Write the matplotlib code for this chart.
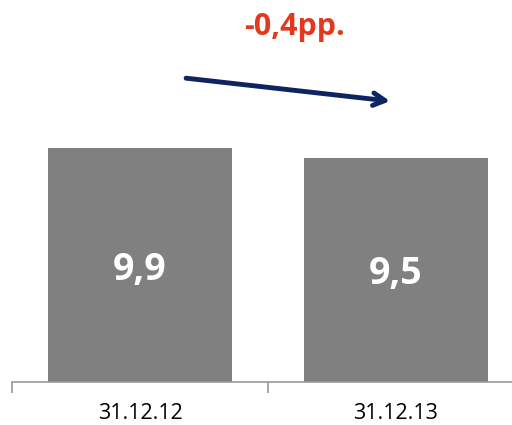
import matplotlib
matplotlib.use("Agg")
import matplotlib.pyplot as plt

categories = ["31.12.12", "31.12.13"]
values = [9.9, 9.5]
value_labels = ["9,9", "9,5"]
change_label = "-0,4pp."

fig = plt.figure(figsize=(5.12, 4.25), dpi=100)
ax = fig.add_axes([12/512, 43/425, 512/512, 378/425])
x = list(range(len(categories)))
ax.bar(x, values, width=0.72, color="#808080", zorder=2)
ax.set_xlim(-0.5, 1.5)
ax.set_ylim(0, 16)

for xi, v, lab in zip(x, values, value_labels):
    ax.text(xi, v / 2, lab, ha="center", va="center_baseline", color="white",
            fontsize=27, fontweight="bold", family="Open Sans")

ax.annotate("", xy=(0.977, 11.89), xytext=(0.18, 12.86),
            arrowprops=dict(arrowstyle="->,head_length=0.85,head_width=0.45",
                            color="#0d2461", lw=3.5, shrinkA=0, shrinkB=0))
ax.text(0.605, 14.68, change_label, ha="center", va="baseline", color="#e2391e",
        fontsize=22, fontweight="bold", family="Open Sans")

for s in ["top", "right", "left"]:
    ax.spines[s].set_visible(False)
ax.spines["bottom"].set_color("#999999")
ax.spines["bottom"].set_linewidth(1.2)
ax.set_yticks([])
ax.set_xticks([-0.5, 0.5, 1.5], minor=False)
ax.set_xticklabels([])
ax.tick_params(axis="x", length=8, color="#999999", width=1.2)
ax.set_xticks(x, minor=True)
ax.set_xticklabels(categories, minor=True, fontsize=15.5, family="Open Sans")
ax.tick_params(axis="x", which="minor", length=0, pad=15)

fig.savefig("out.png", dpi=100)
